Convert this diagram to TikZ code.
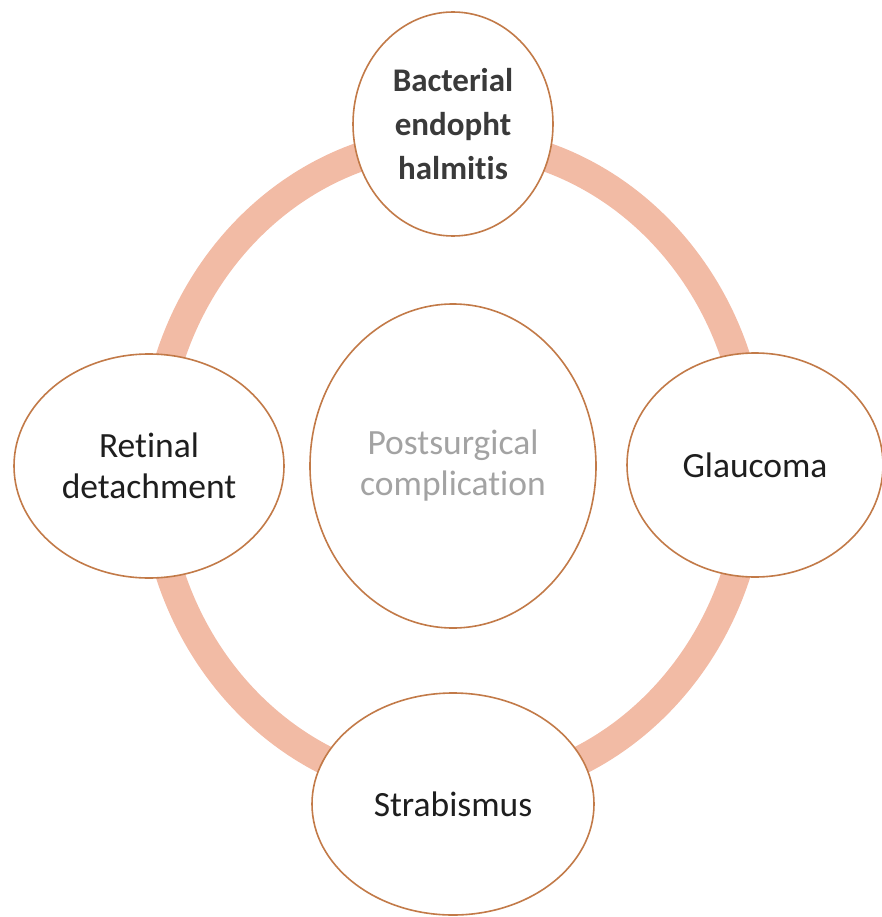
\documentclass[tikz,border=0pt]{standalone}
\usepackage{fontspec}
\setmainfont{Carlito}[Ligatures=NoCommon]
\usepackage{tikz}
\usetikzlibrary{shapes.geometric}
\definecolor{ringSalmon}{HTML}{F2BBA5}
\definecolor{bubbleEdge}{HTML}{C27A48}
\definecolor{labelDark}{HTML}{1E1E1E}
\definecolor{labelBold}{HTML}{3A3A3A}
\definecolor{hubGray}{HTML}{A3A3A3}

\begin{document}
\begin{tikzpicture}[x=1pt,y=-1pt,
  bubble/.style={ellipse,draw=bubbleEdge,line width=1.6pt,fill=white,inner sep=0pt,align=center,
    font=\fontsize{35.5}{41}\selectfont,text=labelDark},
  ring/.style={draw=ringSalmon,line width=29pt}
]
  \useasboundingbox (0,0) rectangle (882,917);
  \node[bubble,minimum width=286pt,minimum height=324pt,text=hubGray] (hub) at (453,466) {Postsurgical\\complication};
  \draw[ring] (hub.center) ellipse [x radius=300pt, y radius=325pt];
  \node[bubble,minimum width=200pt,minimum height=224pt,text=labelBold,
    font=\fontsize{33}{44}\selectfont\bfseries] (endo) at (453,124) {Bacterial\\endopht\\halmitis};
  \node[bubble,minimum width=270pt,minimum height=224pt] (retina) at (149,466) {Retinal\\detachment};
  \node[bubble,minimum width=256pt,minimum height=224pt] (glauc) at (755,465) {Glaucoma};
  \node[bubble,minimum width=282pt,minimum height=222pt] (strab) at (453,804) {Strabismus};
\end{tikzpicture}
\end{document}
